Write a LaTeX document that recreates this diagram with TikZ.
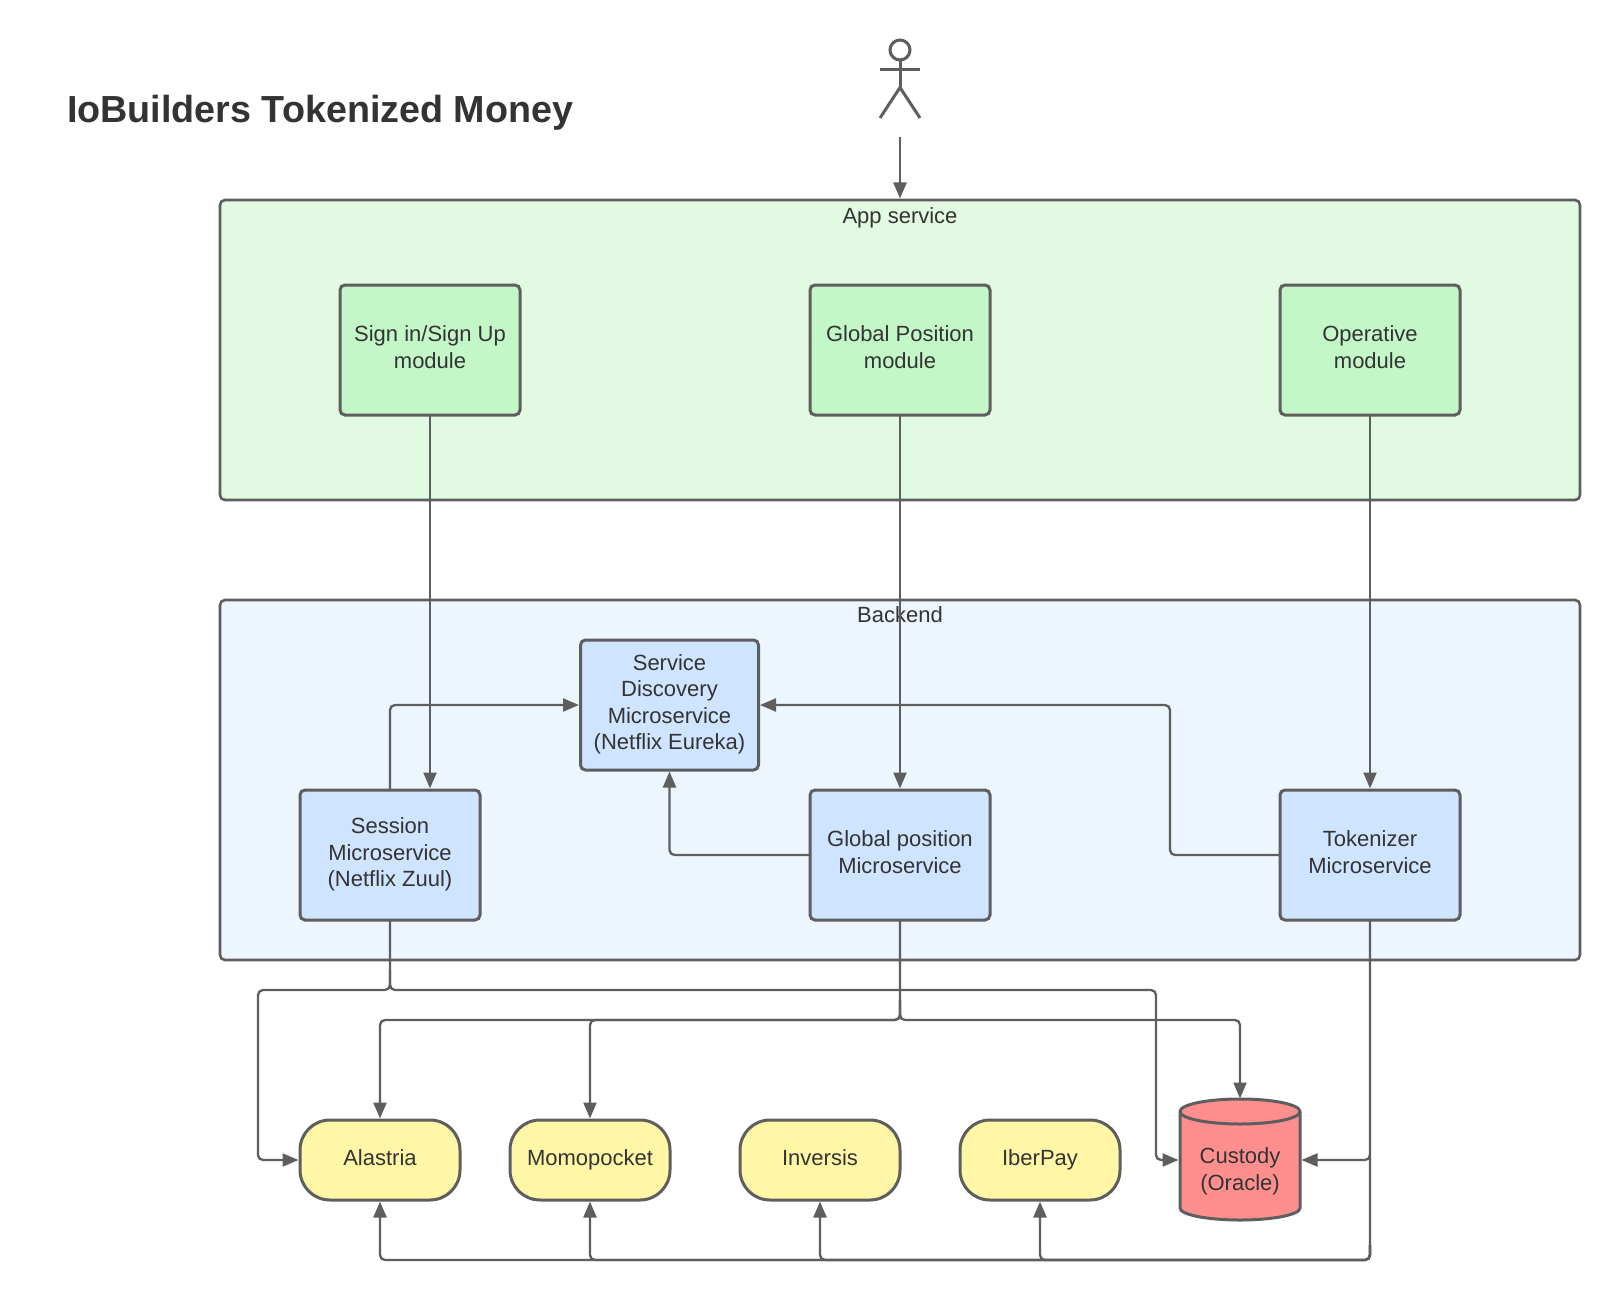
\documentclass[tikz,border=0pt]{standalone}
\usepackage{fontspec}
\setmainfont{Liberation Sans}
\usetikzlibrary{arrows.meta}
\definecolor{ink}{HTML}{5E5E5E}
\definecolor{txt}{HTML}{333333}
\definecolor{appbg}{HTML}{E2FAE2}
\definecolor{modbg}{HTML}{C3F7C8}
\definecolor{backbg}{HTML}{EDF5FF}
\definecolor{svcbg}{HTML}{CFE4FF}
\definecolor{extbg}{HTML}{FFF7A6}
\definecolor{dbbg}{HTML}{FF8F8F}
\tikzset{
  x=1pt,y=-1pt,
  every node/.style={text=txt,font=\fontsize{22}{26.5}\selectfont,align=center,outer sep=0pt,inner sep=0pt},
  container/.style={draw=ink,line width=2.6pt,rounded corners=5pt,minimum width=1360pt},
  modbox/.style={draw=ink,line width=3pt,rounded corners=5pt,fill=modbg,minimum width=180pt,minimum height=130pt,text depth=5.5pt},
  svcbox/.style={modbox,fill=svcbg},
  pill/.style={draw=ink,line width=3pt,rounded corners=30pt,fill=extbg,minimum width=160pt,minimum height=80pt,text depth=5.5pt},
  conn/.style={draw=ink,line width=2.3pt,rounded corners=5pt,shorten >=1.5pt,-{Triangle[length=16pt,width=13pt]}},
  actorline/.style={draw=ink,line width=3pt},
}
\begin{document}
\begin{tikzpicture}
\useasboundingbox (0,0) rectangle (1620,1300);
\fill[white] (0,0) rectangle (1620,1300);
\node[anchor=west,font=\bfseries\fontsize{37.7}{42}\selectfont] (title) at (67,113) {IoBuilders Tokenized Money};
% actor
\node[draw=ink,line width=3pt,circle,minimum size=20pt] (head) at (900,50) {};
\coordinate (hip) at (900,87.5);
\coordinate (armL) at (880,70);
\coordinate (armR) at (920,70);
\coordinate (footL) at (880,118);
\coordinate (footR) at (920,118);
\coordinate (actorbase) at (900,137);
\draw[actorline] (head.south) -- (hip);
\draw[actorline] (armL) -- (armR);
\draw[actorline] (footL) -- (hip) -- (footR);
% containers
\node[container,fill=appbg,minimum height=300pt] (app) at (900,350) {};
\node[container,fill=backbg,minimum height=360pt] (back) at (900,780) {};
\node (applabel) at (900,218) {App service};
\node (backlabel) at (900,615) {Backend};
% modules
\node[modbox] (signin) at (430,350) {Sign in/Sign Up\\module};
\node[modbox] (globalm) at (900,350) {Global Position\\module};
\node[modbox] (oper) at (1370,350) {Operative\\module};
% services
\node[svcbox,minimum width=178pt] (disc) at (669.5,705) {Service\\Discovery\\Microservice\\(Netflix Eureka)};
\node[svcbox] (sess) at (390,855) {Session\\Microservice\\(Netflix Zuul)};
\node[svcbox] (gpos) at (900,855) {Global position\\Microservice};
\node[svcbox] (tok) at (1370,855) {Tokenizer\\Microservice};
% externals
\node[pill] (alas) at (380,1160) {Alastria};
\node[pill] (momo) at (590,1160) {Momopocket};
\node[pill] (inv) at (820,1160) {Inversis};
\node[pill] (iber) at (1040,1160) {IberPay};
% custody cylinder
\node[minimum width=120pt,minimum height=120pt] (cust) at (1240,1160) {};
\draw[draw=ink,line width=3pt,fill=dbbg] (1180,1111.5) -- (1180,1208) arc[start angle=180,end angle=360,x radius=60,y radius=-12] -- (1300,1111.5) arc[start angle=0,end angle=180,x radius=60,y radius=-12.5] -- cycle;
\draw[draw=ink,line width=3pt] (1180,1111.5) arc[start angle=180,end angle=360,x radius=60,y radius=-12.5];
\node (custtext) at (1240,1171.5) {Custody\\(Oracle)};
% connectors
\draw[conn] (actorbase) -- (app.north);
\draw[conn] (signin.south) -- (sess.north -| signin.south);
\draw[conn] (globalm.south) -- (gpos.north);
\draw[conn] (oper.south) -- (tok.north);
\draw[conn] (sess.north) |- (disc.west);
\draw[conn] (gpos.west) -| (disc.south);
\coordinate (tokturn) at (1170,855);
\draw[conn] (tok.west) -- (tokturn) |- (disc.east);
\coordinate (busA) at (258,990);
\coordinate (busB) at (1156,990);
\draw[conn] (sess.south) |- (busA) |- (alas.west);
\draw[conn,shorten <=50pt] (sess.south) |- (busB) |- (cust.west);
\coordinate (busC) at (900,1020);
\draw[conn] (gpos.south) |- (alas.north |- busC) -- (alas.north);
\draw[conn,shorten <=80pt] (gpos.south) |- (momo.north |- busC) -- (momo.north);
\draw[conn,shorten <=80pt] (gpos.south) |- (cust.north |- busC) -- (cust.north);
\coordinate (busD) at (1370,1260);
\draw[conn] (tok.south) |- (cust.east);
\draw[conn,shorten <=235pt] (tok.south) |- (iber.south |- busD) -- (iber.south);
\draw[conn,shorten <=325pt] (tok.south) |- (inv.south |- busD) -- (inv.south);
\draw[conn,shorten <=325pt] (tok.south) |- (momo.south |- busD) -- (momo.south);
\draw[conn,shorten <=325pt] (tok.south) |- (alas.south |- busD) -- (alas.south);
\end{tikzpicture}
\end{document}
